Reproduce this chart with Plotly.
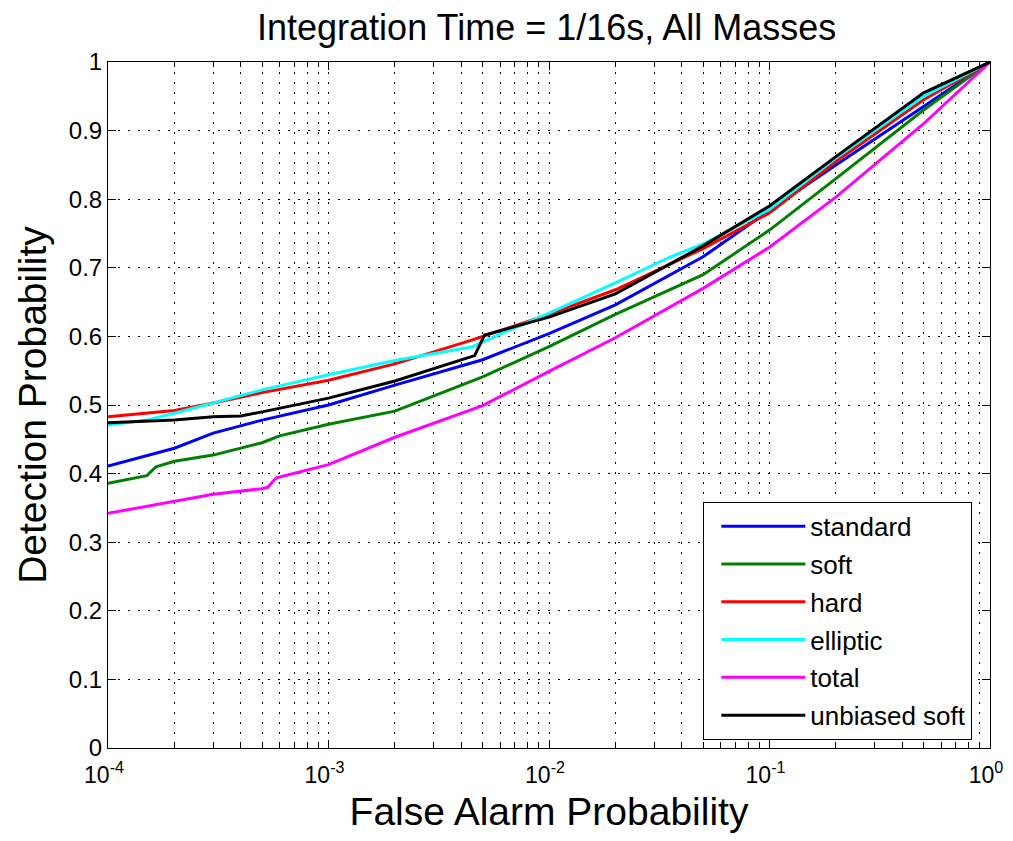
import plotly.graph_objects as go

series_names = ["standard", "soft", "hard", "elliptic", "total", "unbiased soft"]
series_colors = ["#0000ff", "#008000", "#ff0000", "#00ffff", "#ff00ff", "#000000"]

standard_fa = [1e-4, 2e-4, 3e-4, 5e-4, 1e-3, 2e-3, 5e-3, 1e-2, 2e-2, 5e-2, 0.1, 0.2, 0.5, 1]
standard_pd = [0.411, 0.437, 0.459, 0.478, 0.500, 0.529, 0.566, 0.604, 0.646, 0.716, 0.784, 0.85, 0.935, 1.0]

soft_fa = [1e-4, 1.5e-4, 1.65e-4, 2e-4, 3e-4, 5e-4, 6e-4, 1e-3, 2e-3, 5e-3, 1e-2, 2e-2, 5e-2, 0.1, 0.2, 0.5, 1]
soft_pd = [0.386, 0.397, 0.41, 0.418, 0.427, 0.445, 0.455, 0.472, 0.491, 0.541, 0.585, 0.632, 0.69, 0.755, 0.83, 0.93, 1.0]

hard_fa = [1e-4, 2e-4, 3e-4, 5e-4, 1e-3, 2e-3, 4.5e-3, 1e-2, 2e-2, 5e-2, 0.1, 0.2, 0.5, 1]
hard_pd = [0.483, 0.492, 0.503, 0.518, 0.536, 0.56, 0.595, 0.632, 0.668, 0.728, 0.78, 0.855, 0.945, 1.0]

elliptic_fa = [1e-4, 1.5e-4, 2e-4, 3e-4, 5e-4, 1e-3, 2e-3, 4.5e-3, 5.5e-3, 1e-2, 2e-2, 3.5e-2, 5e-2, 0.1, 0.2, 0.5, 1]
elliptic_pd = [0.471, 0.478, 0.488, 0.503, 0.522, 0.544, 0.565, 0.585, 0.598, 0.634, 0.678, 0.715, 0.735, 0.785, 0.86, 0.95, 1.0]

total_fa = [1e-4, 2e-4, 3e-4, 5e-4, 5.3e-4, 5.8e-4, 1e-3, 2e-3, 5e-3, 1e-2, 2e-2, 5e-2, 0.1, 0.2, 0.5, 1]
total_pd = [0.342, 0.36, 0.37, 0.378, 0.38, 0.394, 0.413, 0.453, 0.499, 0.549, 0.598, 0.67, 0.73, 0.803, 0.91, 1.0]

unbiased_fa = [1e-4, 2e-4, 3e-4, 4e-4, 5e-4, 1e-3, 2e-3, 4.6e-3, 5.1e-3, 1e-2, 2e-2, 5e-2, 0.1, 0.2, 0.5, 1]
unbiased_pd = [0.474, 0.478, 0.483, 0.484, 0.49, 0.51, 0.535, 0.572, 0.602, 0.628, 0.662, 0.732, 0.79, 0.862, 0.955, 1.0]

all_fa = [standard_fa, soft_fa, hard_fa, elliptic_fa, total_fa, unbiased_fa]
all_pd = [standard_pd, soft_pd, hard_pd, elliptic_pd, total_pd, unbiased_pd]

x_ticks = [1e-4, 1e-3, 1e-2, 1e-1, 1]
x_tick_text = ["10<sup>-4</sup>", "10<sup>-3</sup>", "10<sup>-2</sup>", "10<sup>-1</sup>", "10<sup>0</sup>"]
x_minor = [k * 10.0 ** e for e in range(-4, 0) for k in range(2, 10)]
y_ticks = [0, 0.1, 0.2, 0.3, 0.4, 0.5, 0.6, 0.7, 0.8, 0.9, 1]
y_tick_text = ["0", "0.1", "0.2", "0.3", "0.4", "0.5", "0.6", "0.7", "0.8", "0.9", "1"]

FONT = "Arial, Liberation Sans, Helvetica, sans-serif"
GRID_DASH = "2px,8px"

fig = go.Figure()
for name, color, fa, pd_ in zip(series_names, series_colors, all_fa, all_pd):
    fig.add_trace(go.Scatter(x=fa, y=pd_, mode="lines", name=name, legendgroup=name,
                             line=dict(color=color, width=3)))

fig.update_layout(
    width=1005, height=825,
    paper_bgcolor="white", plot_bgcolor="white",
    margin=dict(l=100, r=23, t=54, b=85, autoexpand=False),
    title=dict(text="Integration Time = 1/16s, All Masses", x=0.536, xanchor="center",
               y=0.976, yanchor="middle", font=dict(family=FONT, size=36, color="black")),
    font=dict(family=FONT, color="black"),
    showlegend=True,
    legend=dict(x=0.675, y=0.359, xanchor="left", yanchor="top",
                bgcolor="white", bordercolor="black", borderwidth=1,
                font=dict(family=FONT, size=26, color="black"),
                tracegroupgap=1, traceorder="grouped", itemwidth=84, indentation=12),
)

fig.update_xaxes(
    type="log", range=[-4, 0], tickmode="array", tickvals=x_ticks, ticktext=x_tick_text,
    showline=True, linecolor="black", linewidth=1, mirror="ticks",
    ticks="inside", ticklen=8, tickcolor="black",
    showgrid=True, gridcolor="black", griddash=GRID_DASH, gridwidth=1,
    zeroline=False, ticklabelstandoff=6, ticklabelshift=-4,
    ticklabeloverflow="allow", automargin=False,
    tickfont=dict(family=FONT, size=23, color="black"),
    title=dict(text="False Alarm Probability", font=dict(family=FONT, size=39, color="black"), standoff=12),
    minor=dict(tickmode="array", tickvals=x_minor, showgrid=True, gridcolor="black",
               griddash=GRID_DASH, gridwidth=1,
               ticks="inside", ticklen=5, tickcolor="black"),
)
fig.update_yaxes(
    range=[0, 1], tickvals=y_ticks, ticktext=y_tick_text,
    showline=True, linecolor="black", linewidth=1, mirror="ticks",
    ticks="inside", ticklen=8, tickcolor="black",
    showgrid=True, gridcolor="black", griddash=GRID_DASH, gridwidth=1,
    zeroline=False, automargin=False,
    tickfont=dict(family=FONT, size=24, color="black"),
    title=dict(text="Detection Probability", font=dict(family=FONT, size=39, color="black"), standoff=10),
)

fig.write_html("out.html")
